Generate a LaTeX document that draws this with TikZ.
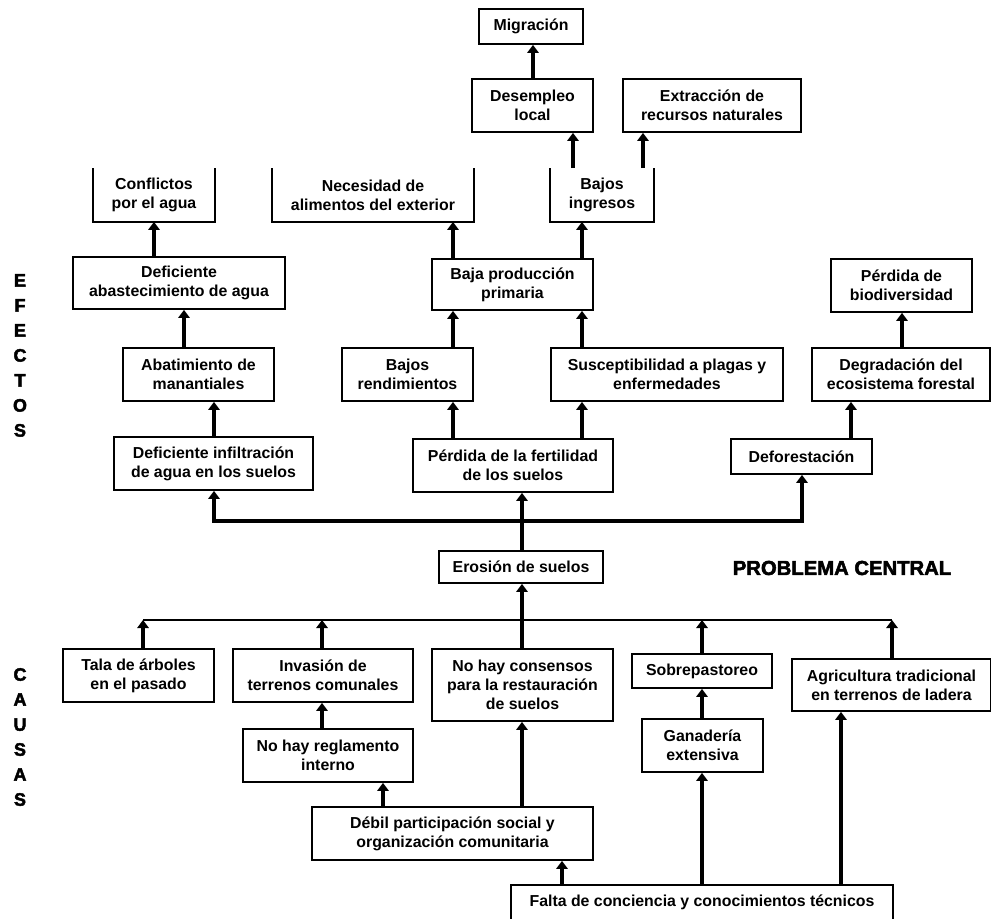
\documentclass[tikz,border=0pt]{standalone}
\usepackage{fontspec}
\setmainfont{Liberation Sans}
\newfontfamily\heavyfont{Liberation Sans}[BoldFeatures={FakeBold=2.5}]
\usetikzlibrary{arrows.meta}
\tikzset{
 wh/.style 2 args={minimum width=#1*0.75pt, minimum height=#2*0.75pt},
 box/.style={draw, line width=1.3pt, fill=white, align=center, inner sep=0pt, font=\bfseries\fontsize{11.9}{14.3}\selectfont},
 openbox/.style={box, draw=none},
 arr/.style={line width=2.6pt, -{Triangle[width=8.5pt,length=6pt]}},
 link/.style={line width=2.6pt},
 cline/.style={line width=2.2pt},
 eline/.style={line width=3pt},
 side/.style={align=center, inner sep=0pt, font=\heavyfont\bfseries\fontsize{13.5}{18.75}\selectfont},
 title/.style={inner sep=0pt, font=\heavyfont\bfseries\fontsize{15.2}{18}\selectfont},
}
\begin{document}
\begin{tikzpicture}[x=0.75pt, y=-0.75pt]
\useasboundingbox (0,0) rectangle (991,918);
% effects
\node[box, wh={104}{35}] (mig) at (531,26.5) {Migración};
\node[box, wh={121}{53}] (desemp) at (532.5,105.5) {Desempleo\\local};
\node[box, wh={178}{53}] (extrac) at (712,105.5) {Extracción de\\recursos naturales};
\node[openbox, wh={102}{52}] (bajing) at (602,195) {Bajos\\ingresos};
\node[openbox, wh={120}{52}] (conf) at (154,195) {Conflictos\\por el agua};
\node[openbox, wh={200}{52}] (neces) at (373,195) {Necesidad de\\alimentos del exterior};
\node[box, wh={212}{52}] (defab) at (179,283) {Deficiente\\abastecimiento de agua};
\node[box, wh={161}{51}] (bajprod) at (512.5,284.5) {Baja producción\\primaria};
\node[box, wh={141}{53}] (perdbio) at (901.5,285.5) {Pérdida de\\biodiversidad};
\node[box, wh={151}{53}] (abat) at (198.5,374.5) {Abatimiento de\\manantiales};
\node[box, wh={131}{53}] (bajrend) at (407.5,374.5) {Bajos\\rendimientos};
\node[box, wh={232}{53}] (suscep) at (667,374.5) {Susceptibilidad a plagas y\\enfermedades};
\node[box, wh={178}{53}] (degrad) at (901,374.5) {Degradación del\\ecosistema forestal};
\node[box, wh={199}{53}] (definf) at (213.5,463.5) {Deficiente infiltración\\de agua en los suelos};
\node[box, wh={200}{53}] (perdfert) at (513,465.5) {Pérdida de la fertilidad\\de los suelos};
\node[box, wh={141}{35}] (defor) at (801.5,456.5) {Deforestación};
% central problem
\node[box, wh={164}{32}] (eros) at (521,567) {Erosión de suelos};
\node[title] (central) at (842,568) {PROBLEMA CENTRAL};
% causes
\node[box, wh={151}{53}] (tala) at (138.5,675.5) {Tala de árboles\\en el pasado};
\node[box, wh={180}{53}] (invas) at (323,675.5) {Invasión de\\terrenos comunales};
\node[box, wh={181}{72}] (consens) at (522.5,685) {No hay consensos\\para la restauración\\de suelos};
\node[box, wh={140}{34}] (sobrep) at (702,671) {Sobrepastoreo};
\node[box, wh={199}{52}] (agric) at (891.5,685) {Agricultura tradicional\\en terrenos de ladera};
\node[box, wh={170}{53}] (reglam) at (328,755.5) {No hay reglamento\\interno};
\node[box, wh={121}{53}] (ganad) at (702.5,745.5) {Ganadería\\extensiva};
\node[box, wh={281}{53}] (debil) at (452.5,833.5) {Débil participación social y\\organización comunitaria};
\node[openbox, wh={380}{32}] (falta) at (702,902) {Falta de conciencia y conocimientos técnicos};
% open box borders
\foreach \n in {bajing,conf,neces}
  \draw[line width=1.3pt] (\n.north west) -- (\n.south west) -- (\n.south east) -- (\n.north east);
\draw[line width=1.3pt] (falta.south west) -- (falta.north west) -- (falta.north east) -- (falta.south east);
% side labels
\node[side] (efectos) at (20,355.5) {E\\F\\E\\C\\T\\O\\S};
\node[side] (causas) at (20,737) {C\\A\\U\\S\\A\\S};
% junction coordinates
\coordinate (ej) at (522,521);
\coordinate (cj) at (522,620);
\coordinate (c1) at (143,620);
\coordinate (c2) at (322,620);
\coordinate (c4) at (702,620);
\coordinate (c5) at (892,620);
% effect arrows
\draw[arr] (definf.north -| 214,0) -- (abat.south -| 214,0);
\draw[arr] (abat.north -| 184,0) -- (defab.south -| 184,0);
\draw[arr] (defab.north -| 154,0) -- (conf.south -| 154,0);
\draw[arr] (perdfert.north -| 453,0) -- (bajrend.south -| 453,0);
\draw[arr] (perdfert.north -| 582,0) -- (suscep.south -| 582,0);
\draw[arr] (bajrend.north -| 453,0) -- (bajprod.south -| 453,0);
\draw[arr] (suscep.north -| 582,0) -- (bajprod.south -| 582,0);
\draw[arr] (bajprod.north -| 453,0) -- (neces.south -| 453,0);
\draw[arr] (bajprod.north -| 582,0) -- (bajing.south -| 582,0);
\draw[arr] (bajing.north -| 573,0) -- (desemp.south -| 573,0);
\draw[arr] (bajing.north -| 643,0) -- (extrac.south -| 643,0);
\draw[arr] (desemp.north -| 533,0) -- (mig.south -| 533,0);
\draw[arr] (defor.north -| 851,0) -- (degrad.south -| 851,0);
\draw[arr] (degrad.north -| 902,0) -- (perdbio.south -| 902,0);
% central to effects
\draw[arr] (eros.north -| ej) -- (perdfert.south -| ej);
\draw[eline, -{Triangle[width=8.5pt,length=6pt]}] (ej) -| (definf.south -| 214,0);
\draw[eline, -{Triangle[width=8.5pt,length=6pt]}] (ej) -| (defor.south -| 802,0);
% causes line
\draw[cline] (c1) -- (c5);
\draw[arr] (cj) -- (eros.south -| cj);
\draw[link] (consens.north -| cj) -- (cj);
\draw[arr] (tala.north -| c1) -- (c1);
\draw[arr] (invas.north -| c2) -- (c2);
\draw[arr] (sobrep.north -| c4) -- (c4);
\draw[arr] (agric.north -| c5) -- (c5);
\draw[arr] (reglam.north -| 322,0) -- (invas.south -| 322,0);
\draw[arr] (debil.north -| 383,0) -- (reglam.south -| 383,0);
\draw[arr] (debil.north -| 522,0) -- (consens.south -| 522,0);
\draw[arr] (ganad.north -| 702,0) -- (sobrep.south -| 702,0);
\draw[arr] (falta.north -| 562,0) -- (debil.south -| 562,0);
\draw[arr] (falta.north -| 702,0) -- (ganad.south -| 702,0);
\draw[arr] (falta.north -| 841,0) -- (agric.south -| 841,0);
\end{tikzpicture}
\end{document}
